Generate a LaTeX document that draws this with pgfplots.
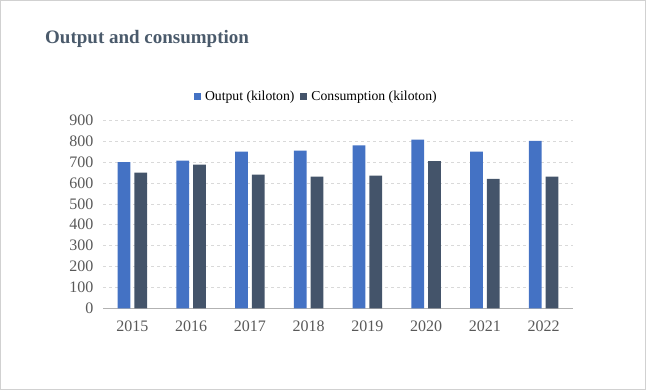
\documentclass[border=0pt]{standalone}
\usepackage{pgfplots}
\pgfplotsset{compat=1.18}
\usepackage{fontspec}
\setmainfont{Liberation Serif}
\definecolor{outc}{HTML}{4472C4}
\definecolor{consc}{HTML}{44546A}
\definecolor{titlec}{HTML}{4A5A6B}
\definecolor{tickc}{HTML}{595959}
\begin{document}
\begin{tikzpicture}[x=1pt,y=1pt]
\useasboundingbox (0,0) rectangle (646,390);
\draw[black!18] (0.5,0.5) rectangle (645.5,389.5);
\node[anchor=base west, font=\bfseries\fontsize{19}{21}\selectfont, text=titlec, inner sep=0] at (45,346) {Output and consumption};
\begin{axis}[
  at={(103pt,81.7pt)}, anchor=south west,
  scale only axis, width=470pt, height=188pt,
  ybar=3.8pt, bar width=12.8pt,
  xmin=-0.5, xmax=7.5, ymin=0, ymax=900,
  enlarge y limits=false,
  xtick=data,
  xticklabels={2015,2016,2017,2018,2019,2020,2021,2022},
  ytick={0,100,...,900},
  axis lines*=left,
  y axis line style={draw=none},
  x axis line style={draw=black!30, line width=0.8pt},
  major tick length=0pt,
  ymajorgrids, grid style={dashed, draw=black!15, line width=0.6pt},
  /pgf/number format/assume math mode=true,
  ticklabel style={font=\fontsize{16}{16}\selectfont, text=tickc},
  xticklabel style={yshift=-9pt},
  yticklabel style={xshift=-6pt},
  legend columns=2,
  legend style={at={(0.455,1.129)}, anchor=center, draw=none, fill=none,
    font=\fontsize{13.7}{14}\selectfont,
    /tikz/every odd column/.append style={column sep=1pt},
    /tikz/every even column/.append style={column sep=3pt},
    nodes={inner xsep=3pt}},
  legend image code/.code={\fill[#1] (0pt,-3.5pt) rectangle (7pt,3.5pt);},
]
\addplot[fill=outc, draw=none] coordinates {(0,700) (1,707) (2,750) (3,755) (4,780) (5,807) (6,750) (7,802)};
\addplot[fill=consc, draw=none] coordinates {(0,650) (1,688) (2,640) (3,630) (4,635) (5,705) (6,620) (7,630)};
\legend{Output (kiloton), Consumption (kiloton)}
\end{axis}
\end{tikzpicture}
\end{document}
